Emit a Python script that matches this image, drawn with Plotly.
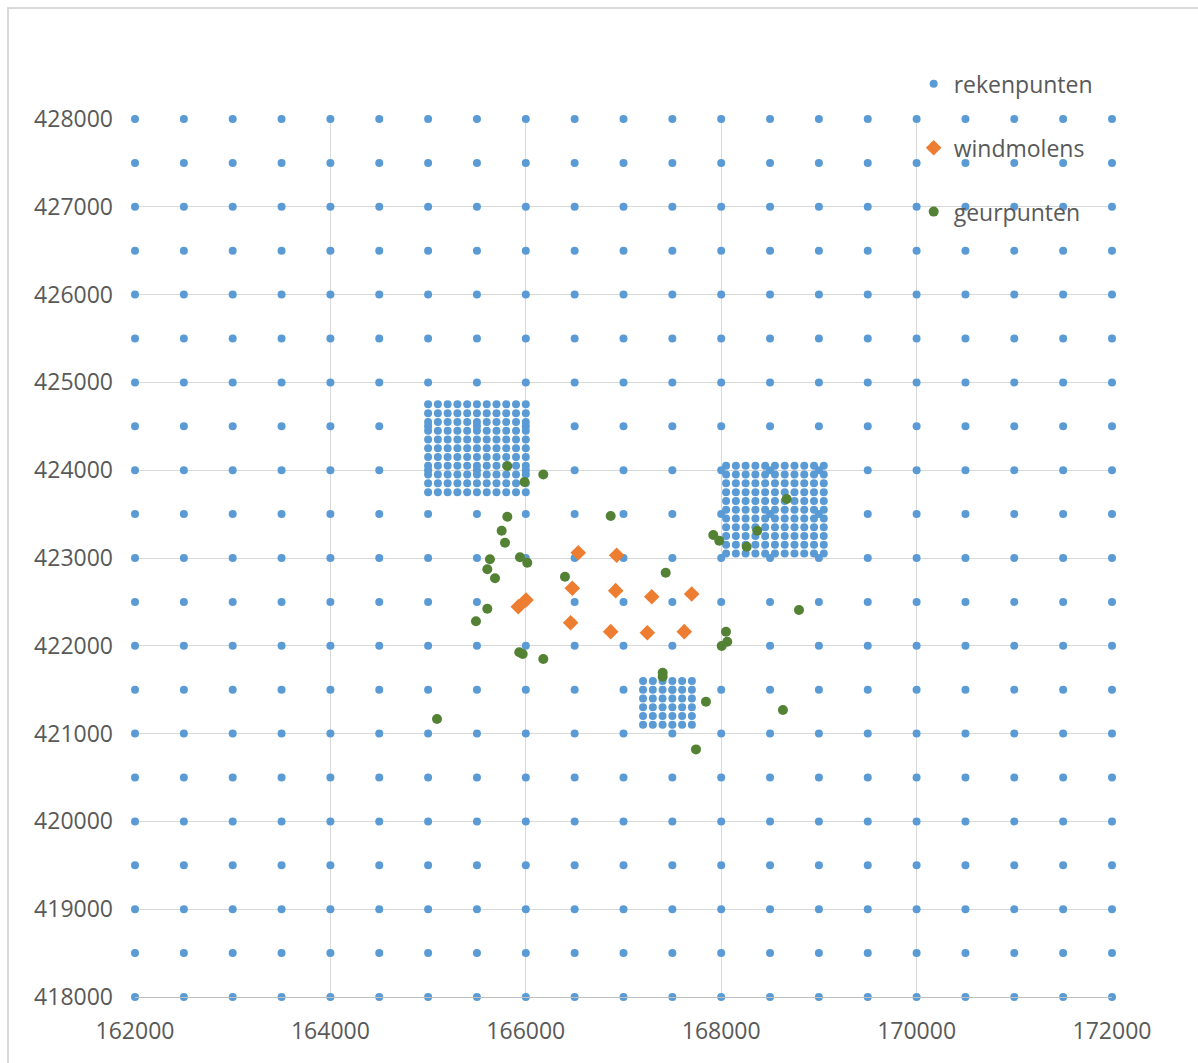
import numpy as np
import plotly.graph_objects as go

# Coarse computation grid (every 500 m over the whole area)
grid_x = [162000 + 500 * i for i in range(21)]
grid_y = [418000 + 500 * i for i in range(21)]

# Refined 100 m sub-grids around the built-up areas
block_a_x = [165000 + 100 * i for i in range(11)]
block_a_y = [423750 + 100 * i for i in range(11)]
block_b_x = [168050 + 100 * i for i in range(11)]
block_b_y = [423050 + 100 * i for i in range(11)]
block_c_x = [167200 + 100 * i for i in range(6)]
block_c_y = [421100 + 100 * i for i in range(6)]

# Wind turbine locations
wind_x = [166537, 166930, 166476, 166920, 167289, 167698,
          165923, 166002, 166459, 166869, 167244, 167622]
wind_y = [423060, 423031, 422655, 422628, 422559, 422590,
          422445, 422522, 422263, 422161, 422149, 422161]

# Odour receptor points
odour_x = [165811, 166179, 165987, 165811, 166869, 165753, 165787, 167919,
           167980, 168261, 168369, 168670, 165633, 165940, 166015, 165606,
           165685, 166401, 167432, 165606, 165490, 168049, 168062, 168005,
           165933, 165968, 166179, 167401, 167401, 167844, 165091, 167742,
           168632, 168796]
odour_y = [424048, 423951, 423866, 423470, 423478, 423311, 423174, 423262,
           423197, 423129, 423311, 423672, 422985, 423008, 422946, 422871,
           422769, 422787, 422832, 422422, 422279, 422160, 422047, 421998,
           421926, 421906, 421849, 421693, 421648, 421363, 421166, 420820,
           421269, 422408]


def mesh(xs, ys):
    gx, gy = np.meshgrid(xs, ys)
    return gx.ravel().tolist(), gy.ravel().tolist()


calc_x, calc_y = [], []
for xs, ys in [(grid_x, grid_y), (block_a_x, block_a_y),
               (block_b_x, block_b_y), (block_c_x, block_c_y)]:
    mx, my = mesh(xs, ys)
    calc_x += mx
    calc_y += my

BLUE = "#5B9BD5"
ORANGE = "#ED7D31"
GREEN = "#548235"
TEXT = "#595959"
GRID = "#D9D9D9"
FONT = "Open Sans"

fig = go.Figure()
fig.add_trace(go.Scatter(
    x=calc_x, y=calc_y, mode="markers", name="rekenpunten",
    legendgroup="a", cliponaxis=False,
    marker=dict(color=BLUE, size=8, line=dict(width=0)),
))
fig.add_trace(go.Scatter(
    x=wind_x, y=wind_y, mode="markers", name="windmolens",
    legendgroup="b", cliponaxis=False,
    marker=dict(color=ORANGE, size=12, symbol="diamond", line=dict(width=0)),
))
fig.add_trace(go.Scatter(
    x=odour_x, y=odour_y, mode="markers", name="geurpunten",
    legendgroup="c", cliponaxis=False,
    marker=dict(color=GREEN, size=10, line=dict(width=0)),
))

# Chart-area border
fig.add_shape(type="rect", xref="paper", yref="paper",
              x0=-0.13, x1=1.1, y0=-0.085, y1=1.1264,
              line=dict(color=GRID, width=2), layer="below")

fig.update_layout(
    width=1198, height=1063,
    margin=dict(l=135, r=86, t=119, b=66),
    paper_bgcolor="white", plot_bgcolor="white",
    font=dict(family=FONT, size=23, color=TEXT),
    showlegend=True,
    legend=dict(
        x=0.797, y=1.0645, xanchor="left", yanchor="top",
        bgcolor="rgba(0,0,0,0)", borderwidth=0,
        font=dict(family=FONT, size=23, color=TEXT),
        tracegroupgap=31, itemsizing="trace",
    ),
    xaxis=dict(
        range=[162000, 172000], dtick=2000, tick0=162000,
        showgrid=True, gridcolor=GRID, gridwidth=1,
        zeroline=False, showline=True, linecolor="#BFBFBF", linewidth=1,
        ticks="", tickformat="d", ticklabelstandoff=13,
        tickfont=dict(family=FONT, size=23, color=TEXT),
    ),
    yaxis=dict(
        range=[418000, 428000], dtick=1000, tick0=418000,
        showgrid=True, gridcolor=GRID, gridwidth=1,
        zeroline=False, showline=False,
        ticks="", tickformat="d", ticklabelstandoff=21,
        tickfont=dict(family=FONT, size=23, color=TEXT),
    ),
)

fig.write_html("out.html")
